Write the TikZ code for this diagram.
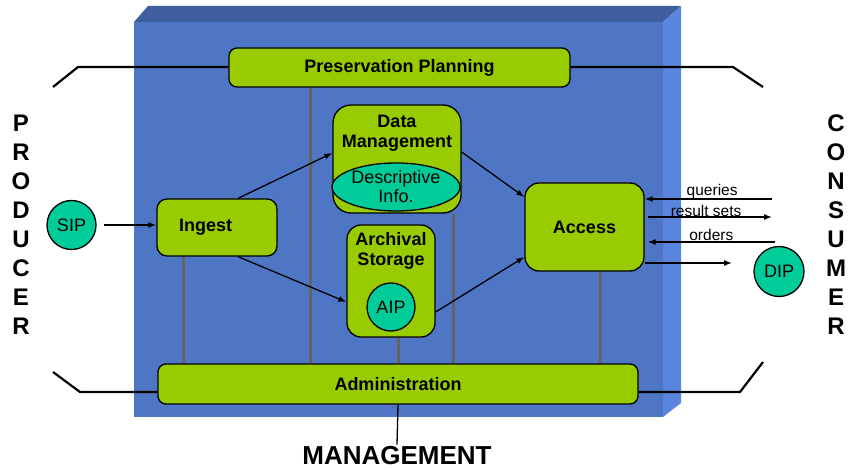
\documentclass[tikz,border=0pt]{standalone}
\usepackage{fontspec}
\setmainfont{Liberation Sans}
\usetikzlibrary{arrows.meta,shapes.geometric}
\definecolor{frontblue}{RGB}{78,118,197}
\definecolor{topblue}{RGB}{62,94,160}
\definecolor{sideblue}{RGB}{90,134,222}
\definecolor{boxgreen}{RGB}{153,204,0}
\definecolor{pkgteal}{RGB}{0,204,153}
\definecolor{linkgray}{RGB}{100,100,100}

\begin{document}
\begin{tikzpicture}[x=1pt, y=-1pt,
    func/.style={draw, line width=1.3pt, fill=boxgreen, align=center, inner sep=0pt,
      font=\fontsize{18}{20}\selectfont\bfseries},
    pkg/.style={draw, line width=1.3pt, fill=pkgteal, circle, minimum size=48, inner sep=0pt,
      font=\fontsize{18}{20}\selectfont},
    flow/.style={->, line width=1.3pt},
    link/.style={linkgray, line width=3pt},
    bracket/.style={line width=2.2pt},
    side/.style={font=\fontsize{24}{24}\selectfont\bfseries},
    small/.style={font=\fontsize{15.5}{16}\selectfont, inner sep=1pt},
    >={Latex[length=8pt,width=6pt]}]
  \useasboundingbox (0,0) rectangle (848,470);
  % Define the spacing of the side letters
  \newcommand\LetterStep{29}

  % Draw the archive block
  \fill[topblue] (134,22) -- (148,6) -- (681,6) -- (663,22) -- cycle;
  \fill[sideblue] (663,22) -- (681,6) -- (681,403) -- (663,417) -- cycle;
  \fill[frontblue] (134,22) rectangle (663,417);

  % Draw the functions
  \node[func, rounded corners=8, minimum width=341, minimum height=39] (pp) at (399.5,67.5) {Preservation Planning};
  \node[func, rounded corners=8, minimum width=480, minimum height=40] (adm) at (398,384) {Administration};
  \node[func, rounded corners=10, minimum width=120, minimum height=57,
    text width=76, align=left, inner xsep=22] (ingest) at (217,227.5) {Ingest};
  \node[func, rounded corners=18, minimum width=128, minimum height=108] (dm) at (397,159) {};
  \node[func, draw=none, fill=none] (dmlbl) at (397,133) {Data\\Management};
  \node[draw, line width=1.3pt, fill=pkgteal, ellipse, minimum width=128, minimum height=48, inner sep=0pt,
    align=center, font=\fontsize{18}{19}\selectfont] (desc) at (396,187) {Descriptive\\Info.};
  \node[func, rounded corners=14, minimum width=88, minimum height=112] (as) at (391,281) {};
  \node[func, draw=none, fill=none] (aslbl) at (391,251) {Archival\\Storage};
  \node[pkg] (aip) at (391,307) {AIP};
  \node[func, rounded corners=14, minimum width=119, minimum height=88] (acc) at (584.5,227) {Access};

  % Draw the packages outside
  \node[pkg, minimum size=49] (sip) at (71.5,225) {SIP};
  \node[pkg, minimum size=50] (dip) at (779,271.5) {DIP};

  % Connect the functions to administration
  \draw[link] ([xshift=-34]ingest.south) -- ([xshift=-34]ingest.south |- adm.north);
  \draw[link] ([xshift=-89.5]pp.south) -- ([xshift=-89.5]pp.south |- adm.north);
  \draw[link] ([xshift=7]as.south) -- ([xshift=7]as.south |- adm.north);
  \draw[link] ([xshift=56]dm.south) -- ([xshift=56]dm.south |- adm.north);
  \draw[link] ([xshift=15.5]acc.south) -- ([xshift=15.5]acc.south |- adm.north);

  % Draw the flows
  \draw[flow] ([xshift=7]sip.east) -- (ingest.west |- sip.east);
  \draw[flow] ([xshift=21]ingest.north) -- ([yshift=6]dm.west);
  \draw[flow] ([xshift=21]ingest.south) -- ([yshift=-21]as.west);
  \draw[flow] ([yshift=7]dm.east) -- ([yshift=30]acc.west);
  \draw[flow] ([yshift=-31]as.east) -- ([yshift=-30]acc.west);

  % Consumer side flows
  \coordinate (qry) at (772,199);
  \coordinate (res) at (772,217);
  \coordinate (ord) at (775,242);
  \coordinate (out) at (732,263);
  \draw[flow] (qry) -- (acc.east |- qry) node[small, pos=0.47, anchor=base, yshift=3] {queries};
  \draw[flow] ([xshift=3]acc.east |- res) -- (res) node[small, pos=0.47, anchor=base] {result sets};
  \draw[flow] (ord) -- ([xshift=3]acc.east |- ord) node[small, pos=0.5, anchor=base, yshift=1] {orders};
  \draw[flow] ([yshift=-36]acc.east) -- (out);

  % Draw the side brackets
  \coordinate (tl1) at (53,87);
  \coordinate (tl2) at (78,67);
  \coordinate (tr1) at (733,67);
  \coordinate (tr2) at (763,87);
  \coordinate (bl1) at (53,372);
  \coordinate (bl2) at (80,392);
  \coordinate (br1) at (740,392);
  \coordinate (br2) at (763,362);
  \draw[bracket] (tl1) -- (tl2) -- (tl2 -| pp.west);
  \draw[bracket] (pp.east |- tr1) -- (tr1) -- (tr2);
  \draw[bracket] (bl1) -- (bl2) -- ([yshift=-8]adm.west);
  \draw[bracket] ([yshift=-8]adm.east) -- (br1) -- (br2);

  % Label the outside parties
  \foreach \l [count=\i] in {P,R,O,D,U,C,E,R}
    \node[side] (prod\i) at (21, 94+\LetterStep*\i) {\l};
  \foreach \l [count=\i] in {C,O,N,S,U,M,E,R}
    \node[side] (cons\i) at (836, 94+\LetterStep*\i) {\l};
  \node[side, font=\fontsize{26}{26}\selectfont\bfseries, inner sep=2pt] (mgmt) at (397,456) {MANAGEMENT};
  \draw[line width=1.3pt] (adm.south) -- (mgmt.north);
\end{tikzpicture}
\end{document}
